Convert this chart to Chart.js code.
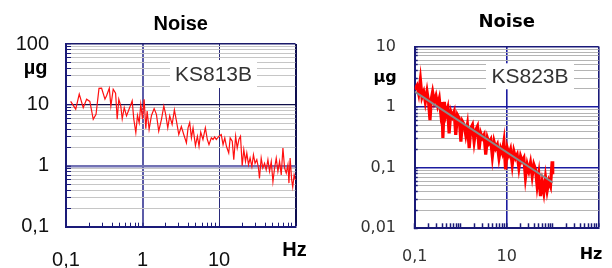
<!DOCTYPE html>
<html>
<head>
<meta charset="utf-8">
<script src="https://cdn.jsdelivr.net/npm/chart.js@4.4.1/dist/chart.umd.min.js"></script>
<style>
  html, body { margin: 0; padding: 0; background: #fff; }
  #wrap { position: relative; width: 612px; height: 268px; overflow: hidden; }
  .panel { position: absolute; top: 0; width: 306px; height: 268px; }
</style>
</head>
<body>
<div id="wrap">
  <div class="panel" style="left:0"><canvas id="ks813-chart" width="306" height="268"></canvas></div>
  <div class="panel" style="left:306px"><canvas id="ks823-chart" width="306" height="268"></canvas></div>
</div>
<script>
// KS813B noise spectrum
const ks813Hz = [0.115, 0.134, 0.149, 0.168, 0.186, 0.205, 0.227, 0.247, 0.27, 0.292,
    0.323, 0.339, 0.368, 0.386, 0.414, 0.445, 0.467, 0.49, 0.52, 0.543,
    0.577, 0.618, 0.663, 0.705, 0.733, 0.77, 0.818, 0.86, 0.905, 0.95,
    1.0, 1.05, 1.105, 1.15, 1.22, 1.31, 1.42, 1.52, 1.63, 1.77,
    1.9, 2.01, 2.14, 2.27, 2.44, 2.61, 2.78, 2.98, 3.22, 3.46,
    3.75, 3.94, 4.14, 4.36, 4.58, 4.92, 5.22, 5.48, 5.77, 6.17,
    6.63, 7.04, 7.4, 7.94, 8.35, 8.77, 9.22, 10, 10.7, 11.3,
    11.9, 12.5, 13.4, 14.0, 14.9, 15.6, 16.5, 17.3, 18.2, 19.1,
    20.1, 21.1, 22.2, 23.1, 24.3, 25.5, 26.9, 28.2, 29.6, 31.2,
    32.8, 33.8, 35.6, 37.4, 39.4, 41.4, 43.6, 45.8, 48.2, 50.7,
    53.3, 56.0, 58.9, 61.9, 65.1, 68.5, 72.0, 75.7, 79.6, 82.1,
    85.1, 89.0, 92.0, 96.0, 100];
const ks813Ug = [11.4, 8.5, 15.0, 9.0, 12.4, 11.4, 5.8, 7.0, 18.7, 18.8,
    12.4, 14.1, 18.7, 9.6, 18.1, 15.6, 5.8, 12.4, 9.6, 5.9,
    9.0, 6.6, 8.3, 10.2, 11.7, 5.8, 3.5, 6.7, 5.1, 10.2,
    5.9, 12.4, 4.06, 7.9, 3.95, 6.7, 8.7, 7.0, 3.7, 5.8,
    9.6, 7.0, 4.2, 6.6, 4.77, 8.3, 5.4, 3.26, 4.4, 3.26,
    2.38, 4.2, 5.1, 2.87, 4.2, 2.14, 3.06, 2.09, 3.57, 2.7,
    4.2, 2.7, 2.23, 2.87, 2.7, 2.98, 2.7, 3.06, 3.26, 2.23,
    2.87, 2.09, 1.62, 2.87, 2.53, 1.26, 3.06, 1.96, 2.7, 3.06,
    1.0, 1.84, 1.18, 1.62, 1.04, 1.34, 0.97, 1.52, 1.1, 1.26,
    0.92, 0.62, 1.34, 0.92, 1.1, 0.86, 1.26, 0.81, 1.18, 0.55,
    0.92, 1.34, 0.81, 1.18, 0.71, 1.96, 0.92, 0.76, 1.04, 0.52,
    1.34, 0.59, 0.45, 0.71, 0.59];

// KS823B noise spectrum and its trend line
const ks823Hz = [0.1, 0.112, 0.122, 0.133, 0.144, 0.157, 0.17, 0.185, 0.2, 0.215,
    0.23, 0.245, 0.266, 0.29, 0.315, 0.342, 0.366, 0.39, 0.41, 0.44,
    0.476, 0.52, 0.56, 0.61, 0.66, 0.72, 0.78, 0.85, 0.93, 1.01,
    1.09, 1.19, 1.29, 1.40, 1.53, 1.66, 1.80, 1.96, 2.13, 2.31,
    2.51, 2.73, 2.96, 3.22, 3.5, 3.8, 4.13, 4.49, 4.88, 5.3,
    5.76, 6.25, 6.8, 7.38, 8.0, 8.7, 9.45, 10.3, 11.2, 12.1,
    13.2, 14.3, 15.6, 16.9, 18.4, 20.0, 21.7, 23.6, 25.6, 27.9,
    30.3, 32.9, 35.8, 38.9, 42.3, 45.9, 49.9, 54.3, 59.0, 64.1,
    69.7, 75.7, 82.3, 89.5, 97.3, 100];
const ks823Ug = [1.96, 2.28, 1.67, 2.86, 1.47, 1.78, 1.22, 1.82, 1.22, 0.61,
    1.38, 1.78, 1.22, 1.53, 1.08, 1.38, 0.84, 1.22, 0.31, 1.22,
    0.74, 0.95, 0.37, 0.84, 0.70, 0.84, 0.35, 0.74, 0.65, 0.27,
    0.58, 0.51, 0.35, 0.51, 0.21, 0.45, 0.51, 0.27, 0.42, 0.48,
    0.2, 0.37, 0.31, 0.35, 0.165, 0.31, 0.256, 0.29, 0.155, 0.27,
    0.21, 0.24, 0.145, 0.21, 0.176, 0.27, 0.094, 0.21, 0.165, 0.2,
    0.113, 0.187, 0.145, 0.165, 0.1, 0.155, 0.128, 0.145, 0.069, 0.113,
    0.088, 0.12, 0.073, 0.113, 0.094, 0.05, 0.078, 0.034, 0.057, 0.039,
    0.069, 0.042, 0.06, 0.05, 0.128, 0.078];
const ks823TrendHz = [0.1, 100];
const ks823TrendUg = [1.8, 0.057];

// tick labels
const ks813XTicks = [0.1, 1, 10];
const ks813XLabels = ['0,1', '1', '10'];
const ks813YTicks = [0.1, 1, 10, 100];
const ks813YLabels = ['0,1', '1', '10', '100'];
const ks823XTicks = [0.1, 10];
const ks823XLabels = ['0,1', '10'];
const ks823YTicks = [0.01, 0.1, 1, 10];
const ks823YLabels = ['0,01', '0,1', '1', '10'];

const ARIAL = '"Liberation Sans", Arial, sans-serif';
const DEJAVU = '"DejaVu Sans", Verdana, sans-serif';
const TRANSPARENT = 'rgba(0,0,0,0)';

function sameValue(a, b) {
    return Math.abs(Math.log10(a) - Math.log10(b)) < 1e-6;
}

// all 1..9 steps of every decade between min and max
function decadeSteps(min, max) {
    const out = [];
    for (let d = min; d < max * 0.999; d *= 10) {
        for (let k = 1; k < 10; k++) out.push(+(d * k).toPrecision(3));
    }
    out.push(max);
    return out;
}

function labelFor(value, ticks, labels) {
    for (let i = 0; i < ticks.length; i++) {
        if (sameValue(ticks[i], value)) return labels[i];
    }
    return '';
}

function lineStyle(value, list, fallback) {
    for (const item of list) {
        if (sameValue(item.v, value)) return item;
    }
    return fallback;
}

function points(xs, ys) {
    return xs.map(function (x, i) { return { x: x, y: ys[i] }; });
}

// units and the model tag box
const noiseDecor = {
    id: 'noiseDecor',
    beforeDatasetsDraw: function (chart, args, opts) {
        const ctx = chart.ctx;
        const a = chart.chartArea;
        const t = opts.tag;
        ctx.save();
        ctx.fillStyle = '#fff';
        ctx.fillRect(a.left + t.left, a.top + t.top, t.w, t.h);
        ctx.fillStyle = '#333';
        ctx.font = t.size + 'px ' + ARIAL;
        ctx.textAlign = 'center';
        ctx.textBaseline = 'middle';
        ctx.fillText(t.text, a.left + t.left + t.w / 2, a.top + t.top + t.h / 2 + 1);
        ctx.restore();
    },
    afterDraw: function (chart, args, opts) {
        const ctx = chart.ctx;
        const a = chart.chartArea;
        ctx.save();
        ctx.fillStyle = '#000';
        ctx.font = 'bold ' + opts.unitSize + 'px ' + opts.unitFamily;
        ctx.textAlign = 'center';
        ctx.textBaseline = 'middle';
        ctx.fillText('µg', a.left + opts.yUnit[0], a.top + opts.yUnit[1]);
        ctx.fillText('Hz', a.right + opts.xUnit[0], a.bottom + opts.xUnit[1]);
        ctx.restore();
    }
};

function noiseChart(canvasId, cfg) {
    return new Chart(document.getElementById(canvasId), {
        type: 'line',
        data: { datasets: cfg.datasets },
        plugins: [noiseDecor],
        options: {
            responsive: false,
            animation: false,
            devicePixelRatio: 1,
            layout: { padding: { left: 0, right: cfg.padRight, top: 0, bottom: 0 } },
            elements: { point: { radius: 0 }, line: { tension: 0 } },
            plugins: {
                legend: { display: false },
                tooltip: { enabled: false },
                title: {
                    display: true,
                    fullSize: false,
                    text: 'Noise',
                    color: '#000',
                    font: { family: cfg.family, size: cfg.titleSize, weight: 'bold' },
                    padding: cfg.titlePad
                },
                noiseDecor: cfg.decor
            },
            scales: {
                x: {
                    type: 'logarithmic',
                    min: cfg.xMin,
                    max: cfg.xMax,
                    afterBuildTicks: function (axis) {
                        axis.ticks = decadeSteps(cfg.xMin, cfg.xMax).map(function (v) { return { value: v }; });
                    },
                    afterFit: function (axis) { axis.height = cfg.xAxisHeight; },
                    ticks: {
                        autoSkip: false,
                        maxRotation: 0,
                        minRotation: 0,
                        // labels pushed down by line height, so no extra right padding is reserved
                        padding: 0,
                        color: cfg.labelColor,
                        font: { family: cfg.family, size: cfg.labelSize, lineHeight: cfg.xLineHeight },
                        callback: function (v) { return labelFor(v, cfg.xTicks, cfg.xLabels); }
                    },
                    grid: {
                        tickLength: cfg.xTickLen,
                        tickColor: '#1a1a78',
                        tickWidth: cfg.tickWidth,
                        color: function (c) { return lineStyle(c.tick.value, cfg.xGrid, { color: TRANSPARENT }).color; },
                        lineWidth: function (c) { return lineStyle(c.tick.value, cfg.xGrid, { width: 1 }).width; }
                    },
                    border: { color: '#1a1a78', width: 2 }
                },
                y: {
                    type: 'logarithmic',
                    min: cfg.yMin,
                    max: cfg.yMax,
                    afterBuildTicks: function (axis) {
                        axis.ticks = decadeSteps(cfg.yMin, cfg.yMax).map(function (v) { return { value: v }; });
                    },
                    afterFit: function (axis) { axis.width = cfg.yAxisWidth; },
                    ticks: {
                        autoSkip: false,
                        padding: cfg.yPad,
                        color: cfg.labelColor,
                        font: { family: cfg.family, size: cfg.labelSize },
                        callback: function (v) { return labelFor(v, cfg.yTicks, cfg.yLabels); }
                    },
                    grid: {
                        tickLength: cfg.yTickLen,
                        tickColor: '#1a1a78',
                        tickWidth: cfg.tickWidth,
                        color: function (c) { return lineStyle(c.tick.value, cfg.yGrid, { color: cfg.minorColor }).color; },
                        lineWidth: function (c) { return lineStyle(c.tick.value, cfg.yGrid, { width: 1 }).width; }
                    },
                    border: { color: '#1a1a78', width: 2 }
                }
            }
        }
    });
}

noiseChart('ks813-chart', {
    datasets: [{
        data: points(ks813Hz, ks813Ug),
        borderColor: '#ff1010',
        borderWidth: 1.2
    }],
    xMin: 0.1, xMax: 100, yMin: 0.1, yMax: 100,
    xTicks: ks813XTicks, xLabels: ks813XLabels,
    yTicks: ks813YTicks, yLabels: ks813YLabels,
    family: ARIAL,
    padRight: 10.5,
    titleSize: 20,
    titlePad: { top: 12, bottom: 8 },
    xAxisHeight: 41.3, yAxisWidth: 66,
    xLineHeight: 3.73, yPad: 22,
    xTickLen: -4, yTickLen: -5, tickWidth: 1,
    labelSize: 20, labelColor: '#111',
    minorColor: '#c6c6c6',
    xGrid: [
        { v: 1, color: '#5c5ca8', width: 2 },
        { v: 10, color: '#2a2a7a', width: 1 },
        { v: 100, color: '#0e0e50', width: 2 }
    ],
    yGrid: [
        { v: 0.1, color: '#1a1a78', width: 1 },
        { v: 1, color: '#7272b4', width: 2.5 },
        { v: 10, color: '#10104a', width: 1.2 },
        { v: 100, color: '#1a1a6a', width: 1.5 }
    ],
    decor: {
        unitSize: 20,
        unitFamily: ARIAL,
        yUnit: [-30.5, 24],
        xUnit: [-1, 23.3],
        tag: { text: 'KS813B', size: 21, left: 104, top: 16, w: 87, h: 28 }
    }
});

noiseChart('ks823-chart', {
    datasets: [{
        data: points(ks823TrendHz, ks823TrendUg),
        borderColor: '#8a8a8a',
        borderWidth: 2
    }, {
        data: points(ks823Hz, ks823Ug),
        borderColor: '#ff0000',
        borderWidth: 3.2
    }],
    xMin: 0.1, xMax: 1000, yMin: 0.01, yMax: 10,
    xTicks: ks823XTicks, xLabels: ks823XLabels,
    yTicks: ks823YTicks, yLabels: ks823YLabels,
    family: DEJAVU,
    padRight: 13.3,
    titleSize: 18,
    titlePad: { top: 12, bottom: 13 },
    xAxisHeight: 39.7, yAxisWidth: 108.7,
    xLineHeight: 4.2, yPad: 21.7,
    xTickLen: -5, yTickLen: -3, tickWidth: 1.5,
    labelSize: 16, labelColor: '#333',
    minorColor: '#b4b4b4',
    xGrid: [
        { v: 10, color: '#1c1ca0', width: 1.6 },
        { v: 1000, color: '#1a1a78', width: 1.6 }
    ],
    yGrid: [
        { v: 0.01, color: '#1a1a78', width: 1 },
        { v: 0.1, color: '#1c1ca0', width: 1.6 },
        { v: 1, color: '#1c1ca0', width: 1.6 },
        { v: 10, color: '#1a1a78', width: 1.6 }
    ],
    decor: {
        unitSize: 16,
        unitFamily: DEJAVU,
        yUnit: [-29.7, 31],
        xUnit: [-7.7, 26.7],
        tag: { text: 'KS823B', size: 21, left: 71.3, top: 16.7, w: 88, h: 26 }
    }
});
</script>
</body>
</html>
